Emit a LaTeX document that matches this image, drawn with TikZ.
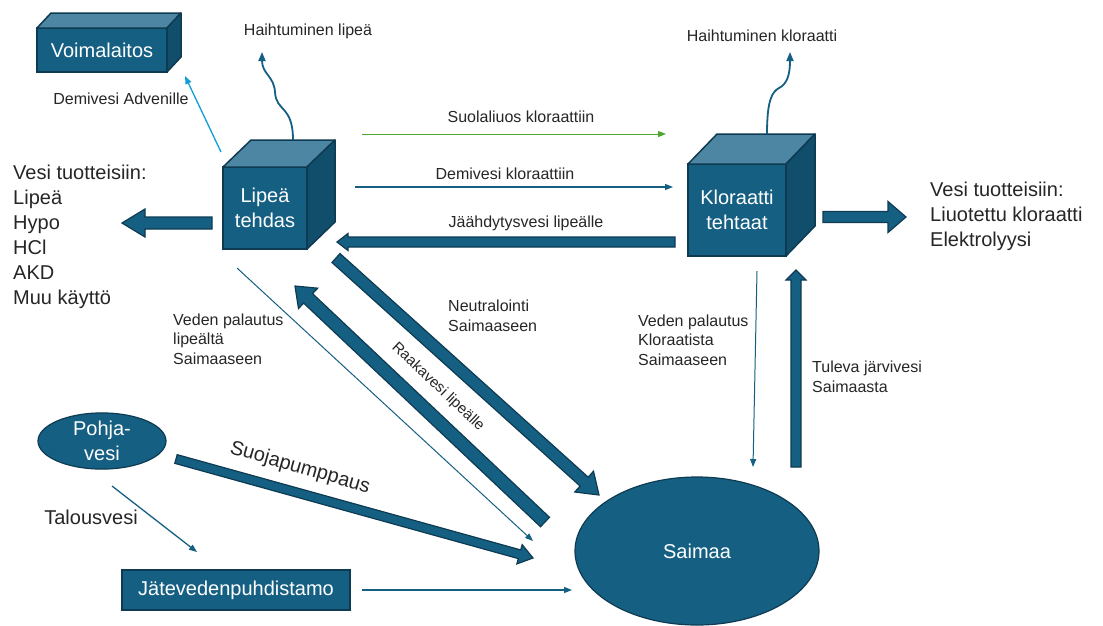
\documentclass[tikz,border=0pt]{standalone}
\usepackage{fontspec}
\setmainfont{Liberation Sans}
\usetikzlibrary{arrows.meta,calc,shapes.geometric}

\definecolor{teal1}{HTML}{156082}
\definecolor{tealtop}{HTML}{4C86A3}
\definecolor{tealside}{HTML}{114E6B}
\definecolor{edge}{HTML}{0E3B52}
\definecolor{skyblue}{HTML}{0F9ED5}
\definecolor{leaf}{HTML}{4EA72E}
\definecolor{ink}{HTML}{262626}

\newcommand{\bigtxt}{\fontsize{20}{25}\selectfont}
\newcommand{\smtxt}{\fontsize{16}{19.5}\selectfont}

\tikzset{front/.style={rectangle,draw=edge,fill=teal1,line width=1.5pt,text=white,font=\bigtxt,align=center,inner sep=0pt,outer sep=0pt}}
\tikzset{topface/.style={draw=edge,fill=tealtop,line width=1.5pt,line join=round}}
\tikzset{sideface/.style={draw=edge,fill=tealside,line width=1.5pt,line join=round}}
\tikzset{pond/.style={ellipse,draw=edge,fill=teal1,line width=1.2pt,text=white,font=\bigtxt,align=center,inner sep=0pt}}
\tikzset{lbl/.style={text=ink,font=\smtxt,align=left,inner sep=0pt}}
\tikzset{biglbl/.style={text=ink,font=\bigtxt,align=left,inner sep=0pt}}
\tikzset{flow/.style={draw=teal1,line width=1.3pt,-{Triangle[length=8pt,width=6pt]}}}
\tikzset{vapor/.style={draw=teal1,line width=1.8pt,-{Triangle[length=9pt,width=7pt]}}}
\tikzset{fat/.style n args={3}{draw=edge,fill=teal1,line width=1.2pt,
    to path={($(\tikztostart)!#1pt!90:(\tikztotarget)$)
      -- ($(\tikztotarget)!#3pt!(\tikztostart)!#1pt!90:(\tikztotarget)$)
      -- ($(\tikztotarget)!#3pt!(\tikztostart)!#2pt!90:(\tikztotarget)$)
      -- (\tikztotarget)
      -- ($(\tikztotarget)!#3pt!(\tikztostart)!#2pt!-90:(\tikztotarget)$)
      -- ($(\tikztotarget)!#3pt!(\tikztostart)!#1pt!-90:(\tikztotarget)$)
      -- ($(\tikztostart)!#1pt!-90:(\tikztotarget)$) -- cycle}}}

% top and right side of a box node
\newcommand{\cube}[3]{%
  \draw[topface] (#1.north west) -- ++(#2,-#3) -- ($(#1.north east)+(#2,-#3)$) -- (#1.north east) -- cycle;
  \draw[sideface] (#1.north east) -- ($(#1.north east)+(#2,-#3)$) -- ($(#1.south east)+(#2,-#3)$) -- (#1.south east) -- cycle;
}

\begin{document}
\begin{tikzpicture}[x=1pt,y=-1pt]
    \useasboundingbox (0,0) rectangle (1103,625);
    \fill[white] (0,0) rectangle (1103,625);

    % plants
    \node[front,minimum width=130pt,minimum height=44pt] (voima) at (102,50) {Voimalaitos};
    \cube{voima}{14}{15}
    \node[front,minimum width=84pt,minimum height=82pt] (lipea) at (265,208) {Lipeä\\tehdas};
    \cube{lipea}{28}{27}
    \node[front,minimum width=98pt,minimum height=92pt] (klor) at (737,210) {Kloraatti\\tehtaat};
    \cube{klor}{29}{30}
    \node[pond,minimum width=128pt,minimum height=50pt] (pohja) at (102,441) {Pohja-\\vesi};
    \node[front,line width=1.2pt,minimum width=228pt,minimum height=40pt] (jate) at (236,590) {Jätevedenpuhdistamo};
    \node[pond,minimum width=244pt,minimum height=148pt] (saimaa) at (697,551) {Saimaa};

    % texts
    \node[lbl] (hlip) at (308,31) {Haihtuminen lipeä};
    \node[lbl] (hklo) at (762,36) {Haihtuminen kloraatti};
    \node[lbl] (advl) at (121,99) {Demivesi Advenille};
    \node[lbl] (suol) at (521,117) {Suolaliuos kloraattiin};
    \node[lbl] (demk) at (505,174) {Demivesi kloraattiin};
    \node[lbl] (jaah) at (526,223) {Jäähdytysvesi lipeälle};
    \node[biglbl,anchor=west] (tuoteL) at (13,236.5) {Vesi tuotteisiin:\\Lipeä\\Hypo\\HCl\\AKD\\Muu käyttö};
    \node[biglbl,anchor=west] (tuoteR) at (930,216.5) {Vesi tuotteisiin:\\Liuotettu kloraatti\\Elektrolyysi};
    \node[lbl,anchor=west] (palL) at (173,339) {Veden palautus\\lipeältä\\Saimaaseen};
    \node[lbl,anchor=west] (neut) at (448,316) {Neutralointi\\Saimaaseen};
    \node[lbl,anchor=west] (palK) at (638,340) {Veden palautus\\Kloraatista\\Saimaaseen};
    \node[lbl,anchor=west] (tule) at (812,377) {Tuleva järvivesi\\Saimaasta};
    \node[lbl,font=\fontsize{15}{18}\selectfont,rotate=-43.5] (raak) at (438,387) {Raakavesi lipeälle};
    \node[biglbl,rotate=-16] (suoj) at (300,468) {Suojapumppaus};
    \node[biglbl] (talo) at (91,517) {Talousvesi};

    % free ends
    \coordinate (vlipA) at (293,140);
    \coordinate (vlipB) at (262,52);
    \coordinate (vkloA) at (767,134);
    \coordinate (vkloB) at (790,52);
    \coordinate (advA) at (221,152);
    \coordinate (advB) at (185,76);
    \coordinate (suolA) at (362,134);
    \coordinate (suolB) at (666,134);
    \coordinate (demA) at (355,187);
    \coordinate (demB) at (673,187);
    \coordinate (palLA) at (237,268);
    \coordinate (palLB) at (533,541);
    \coordinate (taloA) at (112,486);
    \coordinate (taloB) at (197,552);
    \coordinate (jateA) at (362,590);
    \coordinate (jateB) at (572,590);
    \coordinate (palKA) at (757,271);
    \coordinate (palKB) at (753,467);
    \coordinate (jaahA) at (675,242);
    \coordinate (jaahB) at (337,242);
    \coordinate (outLA) at (212,223);
    \coordinate (outLB) at (122,223);
    \coordinate (outRA) at (823,217);
    \coordinate (outRB) at (906,217);
    \coordinate (tuleA) at (796,467);
    \coordinate (tuleB) at (796,270);
    \coordinate (neutA) at (336,258);
    \coordinate (neutB) at (599,495);
    \coordinate (raakA) at (545,522);
    \coordinate (raakB) at (295,286);
    \coordinate (suojA) at (176,459);
    \coordinate (suojB) at (533,558);

    % thin flows
    \draw[vapor] (vlipA) .. controls (293,105) and (276,112) .. (275,92) .. controls (274,76) and (262,74) .. (vlipB);
    \draw[vapor] (vkloA) .. controls (767,100) and (772,92) .. (779,88) .. controls (787,84) and (790,75) .. (vkloB);
    \draw[flow,draw=skyblue] (advA) -- (advB);
    \draw[flow,draw=leaf,line width=1pt] (suolA) -- (suolB);
    \draw[flow] (demA) -- (demB);
    \draw[flow,line width=1pt] (palLA) -- (palLB);
    \draw[flow] (taloA) -- (taloB);
    \draw[flow] (jateA) -- (jateB);
    \draw[flow,line width=1pt] (palKA) -- (palKB);

    % big flows
    \draw[fat={5}{8.5}{11}] (jaahA) to (jaahB);
    \draw[fat={6}{14}{23}] (outLA) to (outLB);
    \draw[fat={5.5}{15.5}{18}] (outRA) to (outRB);
    \draw[fat={5}{10}{10}] (tuleA) to (tuleB);
    \draw[fat={6}{14}{20}] (neutA) to (neutB);
    \draw[fat={6.5}{14}{18}] (raakA) to (raakB);
    \draw[fat={4.5}{10}{14}] (suojA) to (suojB);
\end{tikzpicture}
\end{document}
